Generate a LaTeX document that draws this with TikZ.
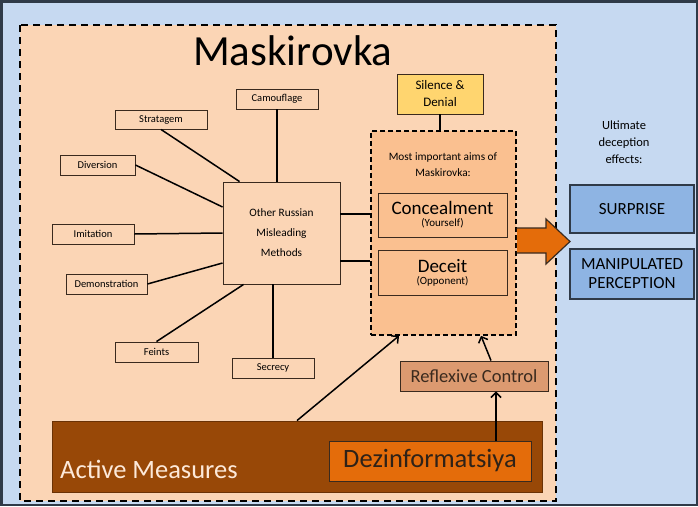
\documentclass[tikz,border=0pt]{standalone}
\usepackage{fontspec}
\setmainfont{Carlito}
\usetikzlibrary{arrows.meta}
\definecolor{bgblue}{HTML}{C6D9F1}
\definecolor{peach}{HTML}{FBD5B5}
\definecolor{aimfill}{HTML}{FAC090}
\definecolor{silence}{HTML}{FFD56F}
\definecolor{reflex}{HTML}{DC9A70}
\definecolor{burnt}{HTML}{E46C0A}
\definecolor{brownbar}{HTML}{984807}
\definecolor{effblue}{HTML}{8EB4E3}
\definecolor{edge}{HTML}{3A2A1E}
\definecolor{effedge}{HTML}{2F3A48}
\definecolor{cream}{HTML}{FDE9D9}
\begin{document}
\begin{tikzpicture}[x=1pt, y=-1pt,
    method/.style={draw=edge, fill=peach, line width=0.9pt, inner sep=0pt, minimum height=20pt, font=\fontsize{10.5}{12}\selectfont},
    aim/.style={draw=edge, fill=aimfill, line width=0.9pt, inner sep=0pt, align=center, minimum width=129pt},
    effect/.style={draw=effedge, fill=effblue, line width=2.2pt, inner sep=0pt, align=center, minimum width=124pt, font=\fontsize{17}{19}\selectfont},
    link/.style={line width=1.5pt, draw=black},
    push/.style={line width=1.5pt, draw=black, -{Straight Barb[length=5pt,width=10pt]}}]
      \useasboundingbox (0,0) rectangle (698,506);
      \draw[fill=bgblue, draw=effedge, line width=2.5pt] (1.25,1.25) rectangle (696.75,504.75);
      \draw[fill=peach, line width=1.6pt, dash pattern=on 7pt off 5pt] (20,25) rectangle (556,501);
      \node[anchor=base west, inner sep=0pt, font=\fontsize{43}{48}\selectfont] (title) at (193,65) {Maskirovka};
      \node[method, minimum width=117pt, minimum height=102pt, align=center, font=\fontsize{11.3}{20}\selectfont] (orm) at (281.5,233) {Other Russian\\Misleading\\Methods};
      \node[method, minimum width=82pt] (camo) at (277,99) {Camouflage};
      \node[method, minimum width=92pt, minimum height=19pt] (strat) at (161,119.5) {Stratagem};
      \node[method, minimum width=75pt] (div) at (97.5,165) {Diversion};
      \node[method, minimum width=82pt] (imit) at (93,234) {Imitation};
      \node[method, minimum width=81pt] (demo) at (106.5,284) {Demonstration};
      \node[method, minimum width=83pt] (feints) at (156.5,352) {Feints};
      \node[method, minimum width=82pt] (secr) at (273,368) {Secrecy};
      \draw[link] (camo.south) -- (camo.south |- orm.north);
      \draw[link] (strat.south) -- ([xshift=17pt]orm.north west);
      \draw[link] (div.east) -- ([yshift=26pt]orm.west);
      \draw[link] (imit.east) -- (orm.west);
      \draw[link] (demo.east) -- ([yshift=-30pt]orm.west);
      \draw[link] (feints.north) -- ([xshift=21pt]orm.south west);
      \draw[link] (secr.north) -- (secr.north |- orm.south);
      \node[draw=black, fill=aimfill, line width=1.6pt, dash pattern=on 5pt off 3pt, minimum width=145pt, minimum height=204pt, inner sep=0pt] (aims) at (443.5,233) {};
      \node[align=center, font=\fontsize{11.3}{16}\selectfont, inner sep=0pt] (aimstxt) at (443,165) {Most important aims of\\Maskirovka:};
      \node[aim, minimum height=44pt] (conceal) at (442.5,215) {\fontsize{19}{20}\selectfont Concealment\\{\fontsize{11}{15}\selectfont (Yourself)}};
      \node[aim, minimum height=45pt] (deceit) at (442.5,272.5) {\fontsize{19}{20}\selectfont Deceit\\{\fontsize{11}{15}\selectfont (Opponent)}};
      \node[draw=edge, fill=silence, line width=0.9pt, minimum width=86pt, minimum height=40pt, inner sep=0pt, align=center, font=\fontsize{13}{17}\selectfont] (sd) at (440,94) {Silence \&\\Denial};
      \draw[link] (sd.south) -- (sd.south |- aims.north);
      \draw[link] ([yshift=19pt]orm.east) -- ([yshift=19pt]orm.east -| aims.west);
      \draw[link] ([yshift=-28pt]orm.east) -- ([yshift=-28pt]orm.east -| aims.west);
      \draw[fill=burnt, draw=edge, line width=1.2pt, line join=miter] (aims.east |- 0,228) -- (546,228) -- (546,219) -- (570,241.5) -- (546,264) -- (546,253) -- (aims.east |- 0,253);
      \node[align=center, font=\fontsize{12.5}{17}\selectfont, inner sep=0pt] (ultimate) at (624,142) {Ultimate\\deception\\effects:};
      \node[effect, minimum height=48pt] (surprise) at (632,209) {SURPRISE};
      \node[effect, minimum height=50pt] (manip) at (632,274) {MANIPULATED\\PERCEPTION};
      \node[draw=brownbar!70!black, fill=brownbar, line width=0.9pt, minimum width=490pt, minimum height=71pt, inner sep=0pt] (am) at (297,456.5) {};
      \node[anchor=base west, inner sep=0pt, text=cream, font=\fontsize{26.5}{30}\selectfont] (amtxt) at (60,478) {Active Measures};
      \node[draw=edge, fill=burnt, line width=0.9pt, minimum width=202pt, minimum height=40pt, inner sep=0pt, text=edge!80!black, font=\fontsize{26.5}{30}\selectfont] (dez) at (430,461) {Dezinformatsiya};
      \node[draw=edge, fill=reflex, line width=0.9pt, minimum width=148pt, minimum height=30pt, inner sep=0pt, text=edge, font=\fontsize{18.5}{20}\selectfont] (rc) at (474,376) {Reflexive Control};
      \draw[push] (am.north) -- ([xshift=-44.5pt]aims.south);
      \draw[push] ([xshift=17pt]rc.north) -- ([xshift=37.5pt]aims.south);
      \draw[push] ([xshift=66pt]dez.north) -- ([xshift=66pt]dez.north |- rc.south);
    \end{tikzpicture}
\end{document}
